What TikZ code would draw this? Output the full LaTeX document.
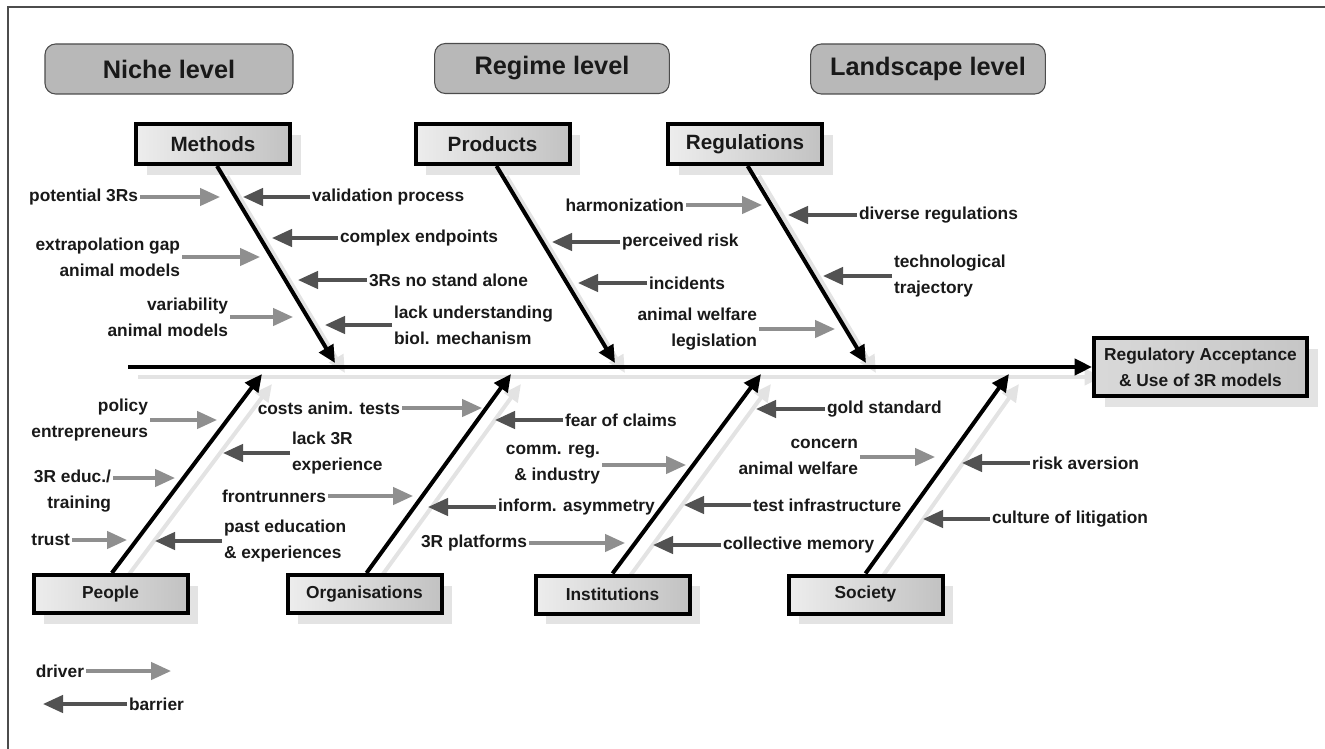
\documentclass[tikz,border=0pt]{standalone}
\usepackage{fontspec}
\setmainfont{Liberation Sans}
\usetikzlibrary{arrows.meta,shadows}
\definecolor{drv}{gray}{0.56}
\definecolor{bar}{gray}{0.32}
\definecolor{txt}{gray}{0.1}
\definecolor{shd}{gray}{0.89}
\definecolor{lvlfill}{gray}{0.72}
\definecolor{framec}{gray}{0.3}
\pgfdeclarelayer{bg}
\pgfsetlayers{bg,main}
\begin{document}
\begin{tikzpicture}[x=0.75pt,y=-0.75pt,
  every node/.style={text=txt, font=\bfseries\fontsize{13}{19.5}\selectfont},
  lbl/.style={inner sep=0pt, outer sep=1.5pt},
  lvl/.style={draw=framec, line width=0.8pt, fill=lvlfill, rounded corners=8pt,
    minimum width=176pt, minimum height=37.5pt, font=\bfseries\fontsize{19}{22}\selectfont},
  catbox/.style={draw=black, line width=3pt, left color=gray!14, right color=gray!48,
    inner sep=0pt, minimum width=115.5pt,
    drop shadow={shadow xshift=8pt, shadow yshift=-8pt, fill=shd, opacity=1}},
  cattop/.style={catbox, minimum height=30pt, font=\bfseries\fontsize{15.5}{18}\selectfont},
  catbot/.style={catbox, minimum height=28.5pt},
  goalbox/.style={catbox, left color=gray!30, right color=gray!45, minimum width=159.75pt,
    minimum height=43.5pt, align=center},
  bone/.style={line width=3pt, black, -{Triangle[length=13pt,width=12pt]}},
  boneshd/.style={line width=3pt, shd, -{Triangle[length=13pt,width=12pt]}},
  driver/.style={line width=2.6pt, drv, -{Triangle[length=15pt,width=13pt]}},
  barrier/.style={line width=2.6pt, bar, -{Triangle[length=15pt,width=13pt]}},
]
\useasboundingbox (0,0) rectangle (1325,749);
\draw[framec, line width=1.5pt] (8,749) -- (8,7) -- (1325,7);

% level boxes
\node[lvl, minimum width=186pt] (niche) at (169,69) {Niche level};
\node[lvl] (regime) at (552,68.5) {Regime level};
\node[lvl] (landscape) at (928,69) {Landscape level};

% category boxes
\node[cattop] (methods) at (213,144) {Methods};
\node[cattop] (products) at (492.5,144) {Products};
\node[cattop] (regulations) at (745,144) {Regulations};
\node[catbot] (people) at (110.5,594) {People};
\node[catbot] (organisations) at (364.5,594) {Organisations};
\node[catbot] (institutions) at (612.5,594.5) {Institutions};
\node[catbot] (society) at (865.5,594.5) {Society};
\node[goalbox] (goal) at (1200.5,367) {Regulatory Acceptance\\\& Use of 3R models};

% bone tips
\coordinate (spinestart) at (128,367);
\coordinate (tipM) at (335,363);
\coordinate (tipP) at (615,363);
\coordinate (tipR) at (866,363);
\coordinate (tipPe) at (262,374);
\coordinate (tipO) at (511,374);
\coordinate (tipI) at (761,374);
\coordinate (tipS) at (1009,374);

\begin{pgfonlayer}{bg}
\draw[boneshd] ([shift={(10,10)}]spinestart) -- ([shift={(10,10)}]goal.west);
\foreach \b/\t in {methods/tipM, products/tipP, regulations/tipR}
  \draw[boneshd] ([shift={(14,10)}]\b.south) -- ([shift={(10,10)}]\t);
\foreach \b/\t in {people/tipPe, organisations/tipO, institutions/tipI, society/tipS}
  \draw[boneshd] ([shift={(12,10)}]\b.north) -- ([shift={(10,10)}]\t);
\end{pgfonlayer}

\draw[bone] (spinestart) -- (goal.west);
\draw[bone] ([xshift=3pt]methods.south) -- (tipM);
\draw[bone] ([xshift=3pt]products.south) -- (tipP);
\draw[bone] ([xshift=2pt]regulations.south) -- (tipR);
\draw[bone] ([xshift=1pt]people.north) -- (tipPe);
\draw[bone] ([xshift=1.5pt]organisations.north) -- (tipO);
\draw[bone] (institutions.north) -- (tipI);
\draw[bone] (society.north) -- (tipS);

% drivers
\node[lbl, anchor=east] (l1) at (140,197) {potential 3Rs};
\coordinate (a1) at (220,197);
\node[lbl, anchor=east, align=right] (l2) at (182,257) {extrapolation gap\\animal models};
\coordinate (a2) at (260,257);
\node[lbl, anchor=east, align=right] (l3) at (230,317) {variability\\animal models};
\coordinate (a3) at (293,317);
\node[lbl, anchor=east] (l4) at (686,205) {harmonization};
\coordinate (a4) at (762,205);
\node[lbl, anchor=east, align=right] (l5) at (759,329) {animal welfare\\legislation};
\coordinate (a5) at (835,329);
\node[lbl, anchor=east, align=right] (l6) at (150,420) {policy\\entrepreneurs};
\coordinate (a6) at (217,420);
\node[lbl, anchor=east] (l7) at (402,408) {costs anim. tests};
\coordinate (a7) at (482,408);
\node[lbl, anchor=east, align=right] (l8) at (113,491.5) {3R educ./\\training};
\coordinate (a8) at (175,478);
\node[lbl, anchor=east] (l9) at (328,496) {frontrunners};
\coordinate (a9) at (413,496);
\node[lbl, anchor=east] (l10) at (72,540) {trust};
\coordinate (a10) at (127,540);
\node[lbl, anchor=east, align=right] (l11) at (602,465) {comm. reg.\\\& industry};
\coordinate (a11) at (686,465);
\node[lbl, anchor=east, align=right] (l12) at (860,457) {concern\\animal welfare};
\coordinate (a12) at (935,457);
\node[lbl, anchor=east] (l13) at (529,543) {3R platforms};
\coordinate (a13) at (625,543);
\node[lbl, anchor=east] (ld) at (86,671) {driver};
\coordinate (ad) at (171,671);

\foreach \n in {1,2,3,4,5,6,7,9,10,11,12,13,d}
  \draw[driver] (l\n) -- (a\n);
\draw[driver] (l8.east |- a8) -- (a8);

% barriers
\node[lbl, anchor=west] (b1) at (310,197) {validation process};
\coordinate (t1) at (243,197);
\node[lbl, anchor=west] (b2) at (338,238) {complex endpoints};
\coordinate (t2) at (272,238);
\node[lbl, anchor=west] (b3) at (367,280) {3Rs no stand alone};
\coordinate (t3) at (298,280);
\node[lbl, anchor=west, align=left] (b4) at (392,325) {lack understanding\\biol. mechanism};
\coordinate (t4) at (325,325);
\node[lbl, anchor=west] (b5) at (620,242) {perceived risk};
\coordinate (t5) at (552,242);
\node[lbl, anchor=west] (b6) at (647,283) {incidents};
\coordinate (t6) at (578,283);
\node[lbl, anchor=west] (b7) at (857,215) {diverse regulations};
\coordinate (t7) at (788,215);
\node[lbl, anchor=west, align=left] (b8) at (892,276) {technological\\trajectory};
\coordinate (t8) at (823,276);
\node[lbl, anchor=west, align=left] (b9) at (290,453) {lack 3R\\experience};
\coordinate (t9) at (223,453);
\node[lbl, anchor=west, align=left] (b10) at (222,541) {past education\\\& experiences};
\coordinate (t10) at (155,541);
\node[lbl, anchor=west] (b11) at (563,420) {fear of claims};
\coordinate (t11) at (495,420);
\node[lbl, anchor=west] (b12) at (825,409) {gold standard};
\coordinate (t12) at (756,409);
\node[lbl, anchor=west] (b13) at (1030,463) {risk aversion};
\coordinate (t13) at (962,463);
\node[lbl, anchor=west] (b14) at (496,507) {inform. asymmetry};
\coordinate (t14) at (428,507);
\node[lbl, anchor=west] (b15) at (751,505) {test infrastructure};
\coordinate (t15) at (684,505);
\node[lbl, anchor=west] (b16) at (990,519) {culture of litigation};
\coordinate (t16) at (923,519);
\node[lbl, anchor=west] (b17) at (721,545) {collective memory};
\coordinate (t17) at (653,545);
\node[lbl, anchor=west] (bd) at (127,704) {barrier};
\coordinate (td) at (43,704);

\foreach \n in {1,...,17,d}
  \draw[barrier] (b\n) -- (t\n);
\end{tikzpicture}
\end{document}
